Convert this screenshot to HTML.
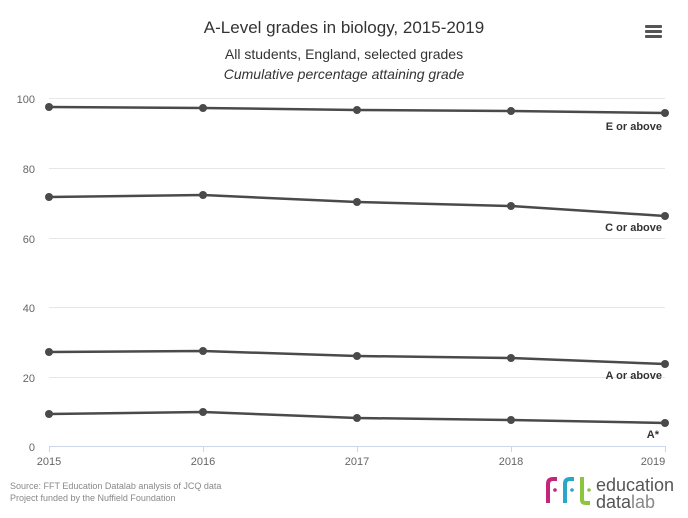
<!DOCTYPE html>
<html><head><meta charset="utf-8"><style>
body{margin:0;background:#fff;}
svg{display:block;font-family:"Liberation Sans",sans-serif;}
</style></head><body>
<svg width="688" height="518" viewBox="0 0 688 518">
<rect width="688" height="518" fill="#fff"/>
<text x="344" y="33" text-anchor="middle" font-size="17" fill="#333">A-Level grades in biology, 2015-2019</text>
<text x="344" y="59" text-anchor="middle" font-size="14" fill="#333">All students, England, selected grades</text>
<text x="344" y="79" text-anchor="middle" font-size="14" font-style="italic" fill="#333">Cumulative percentage attaining grade</text>
<g fill="#555"><rect x="645" y="25" width="17" height="3" rx="1"/><rect x="645" y="30" width="17" height="3" rx="1"/><rect x="645" y="35" width="17" height="3" rx="1"/></g>
<g stroke="#e6e6e6" stroke-width="1">
<line x1="49" y1="98.5" x2="665" y2="98.5"/>
<line x1="49" y1="168.5" x2="665" y2="168.5"/>
<line x1="49" y1="238.5" x2="665" y2="238.5"/>
<line x1="49" y1="307.5" x2="665" y2="307.5"/>
<line x1="49" y1="377.5" x2="665" y2="377.5"/>
</g>
<line x1="49" y1="446.5" x2="665" y2="446.5" stroke="#ccd6eb"/>
<g stroke="#ccd6eb"><line x1="49.5" y1="446" x2="49.5" y2="452"/><line x1="203.5" y1="446" x2="203.5" y2="452"/><line x1="357.5" y1="446" x2="357.5" y2="452"/><line x1="511.5" y1="446" x2="511.5" y2="452"/><line x1="665.5" y1="446" x2="665.5" y2="452"/></g>
<g font-size="11" fill="#666" text-anchor="end">
<text x="35" y="103">100</text><text x="35" y="173">80</text><text x="35" y="243">60</text><text x="35" y="312">40</text><text x="35" y="382">20</text><text x="35" y="451">0</text>
</g>
<g font-size="11" fill="#666" text-anchor="middle">
<text x="49" y="465">2015</text><text x="203" y="465">2016</text><text x="357" y="465">2017</text><text x="511" y="465">2018</text><text x="653" y="465">2019</text>
</g>
<g stroke="#4a4a4a" stroke-width="2.5" fill="none">
<polyline points="49,107 203,108 357,110 511,111 665,113"/>
<polyline points="49,197 203,195 357,202 511,206 665,216"/>
<polyline points="49,352 203,351 357,356 511,358 665,364"/>
<polyline points="49,414 203,412 357,418 511,420 665,423"/>
</g>
<g fill="#4a4a4a">
<circle cx="49" cy="107" r="4"/><circle cx="203" cy="108" r="4"/><circle cx="357" cy="110" r="4"/><circle cx="511" cy="111" r="4"/><circle cx="665" cy="113" r="4"/>
<circle cx="49" cy="197" r="4"/><circle cx="203" cy="195" r="4"/><circle cx="357" cy="202" r="4"/><circle cx="511" cy="206" r="4"/><circle cx="665" cy="216" r="4"/>
<circle cx="49" cy="352" r="4"/><circle cx="203" cy="351" r="4"/><circle cx="357" cy="356" r="4"/><circle cx="511" cy="358" r="4"/><circle cx="665" cy="364" r="4"/>
<circle cx="49" cy="414" r="4"/><circle cx="203" cy="412" r="4"/><circle cx="357" cy="418" r="4"/><circle cx="511" cy="420" r="4"/><circle cx="665" cy="423" r="4"/>
</g>
<g font-size="11" font-weight="bold" fill="#333" text-anchor="end">
<text x="662" y="130">E or above</text>
<text x="662" y="231">C or above</text>
<text x="662" y="379">A or above</text>
<text x="659" y="438">A*</text>
</g>
<g font-size="9" fill="#888">
<text x="10" y="489">Source: FFT Education Datalab analysis of JCQ data</text>
<text x="10" y="501">Project funded by the Nuffield Foundation</text>
</g>
<g>
<path d="M548 503 V484 Q548 479 553 479 H557" stroke="#c2257a" stroke-width="4" fill="none"/>
<circle cx="555" cy="490" r="1.8" fill="#c2257a"/>
<path d="M565 503 V484 Q565 479 570 479 H574" stroke="#2aa6c8" stroke-width="4" fill="none"/>
<circle cx="572" cy="490" r="1.8" fill="#2aa6c8"/>
<path d="M582 477 V500 Q582 503 586 503 H590" stroke="#8cc63f" stroke-width="4" fill="none"/>
<circle cx="589" cy="490" r="1.8" fill="#8cc63f"/>
<text x="596" y="491" font-size="18" fill="#555">education</text>
<text x="596" y="508" font-size="18" fill="#555">data<tspan fill="#888">lab</tspan></text>
</g>
</svg>
</body></html>
